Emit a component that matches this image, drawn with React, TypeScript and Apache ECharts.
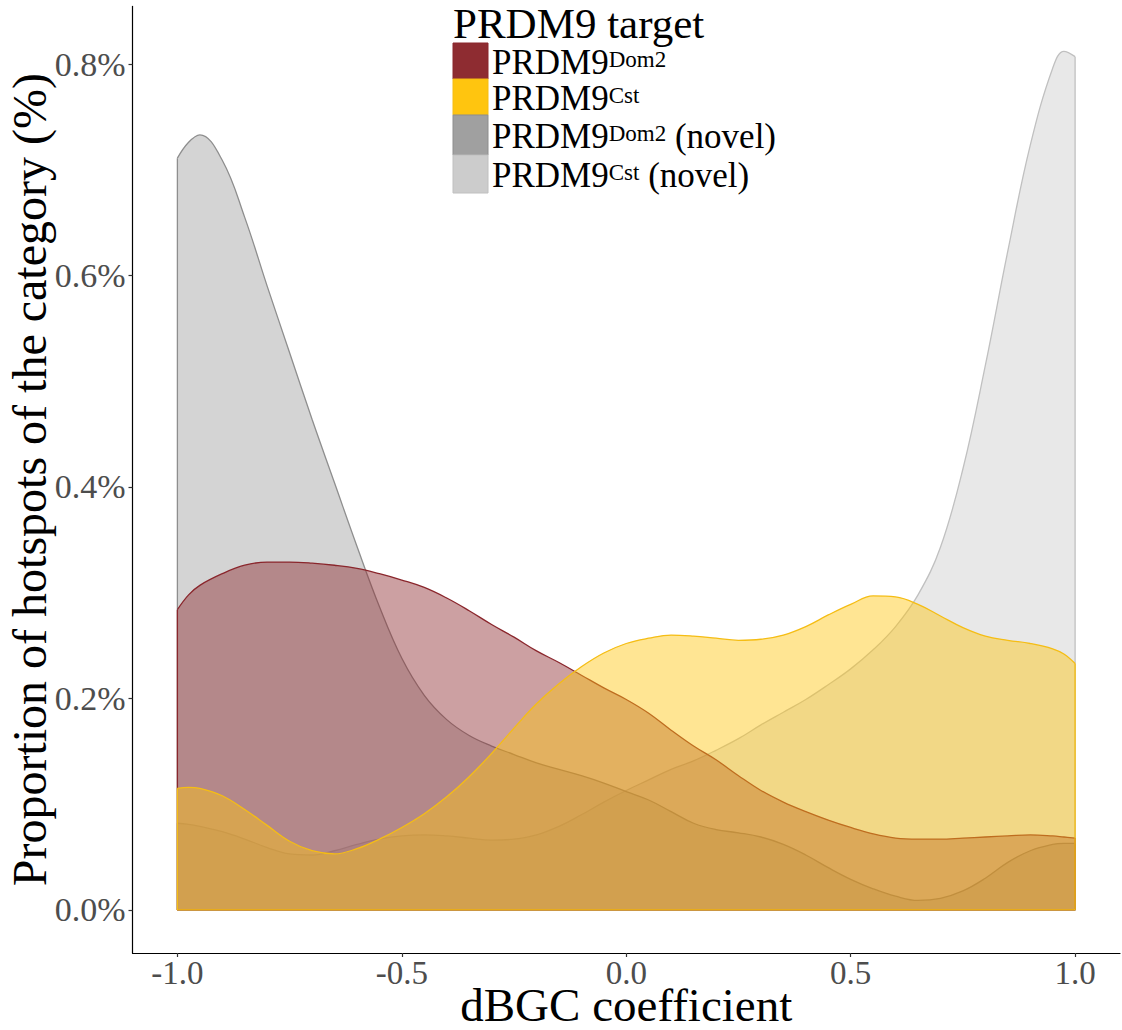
import { useEffect, useRef } from "react";
import * as echarts from "echarts";

// dBGC coefficient grid on which the densities were evaluated
const X_VALUES = [
  -1, -0.975, -0.95, -0.9, -0.85, -0.8, -0.75, -0.7, -0.65, -0.6, -0.55, -0.5,
  -0.45, -0.4, -0.35, -0.3, -0.25, -0.2, -0.15, -0.1, -0.05, 0, 0.05, 0.1,
  0.15, 0.2, 0.25, 0.3, 0.35, 0.4, 0.45, 0.5, 0.55, 0.6, 0.65, 0.7, 0.75,
  0.8, 0.85, 0.9, 0.95, 0.975, 1,
];

// Density (% of hotspots of the category) per PRDM9 target
const DOM2 = [
  0.284, 0.298, 0.307, 0.318, 0.326, 0.329, 0.329, 0.328, 0.326, 0.323, 0.318,
  0.312, 0.305, 0.295, 0.283, 0.27, 0.258, 0.245, 0.234, 0.222, 0.21, 0.199,
  0.186, 0.17, 0.155, 0.142, 0.127, 0.113, 0.102, 0.093, 0.085, 0.078, 0.072,
  0.068, 0.067, 0.067, 0.068, 0.069, 0.07, 0.071, 0.07, 0.069, 0.068,
];
const CST = [
  0.115, 0.116, 0.115, 0.108, 0.095, 0.08, 0.065, 0.056, 0.053, 0.058, 0.067,
  0.078, 0.091, 0.107, 0.126, 0.148, 0.172, 0.195, 0.214, 0.23, 0.243, 0.252,
  0.257, 0.26, 0.259, 0.257, 0.255, 0.256, 0.26, 0.268, 0.279, 0.289, 0.297,
  0.296, 0.289, 0.278, 0.267, 0.259, 0.255, 0.252, 0.247, 0.242, 0.233,
];
const DOM2_NOVEL = [
  0.711, 0.726, 0.733, 0.709, 0.655, 0.59, 0.527, 0.464, 0.404, 0.344, 0.287,
  0.238, 0.203, 0.18, 0.165, 0.155, 0.147, 0.139, 0.133, 0.127, 0.12, 0.112,
  0.104, 0.093, 0.082, 0.076, 0.073, 0.069, 0.062, 0.052, 0.04, 0.029, 0.02,
  0.013, 0.009, 0.011, 0.018, 0.03, 0.045, 0.056, 0.062, 0.063, 0.063,
];
const CST_NOVEL = [
  0.082, 0.081, 0.079, 0.074, 0.067, 0.059, 0.053, 0.052, 0.056, 0.062, 0.067,
  0.07, 0.071, 0.07, 0.068, 0.066, 0.067, 0.071, 0.079, 0.09, 0.102, 0.113,
  0.123, 0.133, 0.141, 0.151, 0.162, 0.175, 0.187, 0.199, 0.213, 0.228, 0.246,
  0.268, 0.298, 0.343, 0.417, 0.515, 0.623, 0.723, 0.796, 0.812, 0.807,
];

const X_TICKS = [-1, -0.5, 0, 0.5, 1];
const Y_TICKS = [0, 0.2, 0.4, 0.6, 0.8];

const LEGEND_TITLE = "PRDM9 target";
const LEGEND_ITEMS = [
  { base: "PRDM9", sup: "Dom2", suffix: "" },
  { base: "PRDM9", sup: "Cst", suffix: "" },
  { base: "PRDM9", sup: "Dom2", suffix: " (novel)" },
  { base: "PRDM9", sup: "Cst", suffix: " (novel)" },
];

const FONT = '"Liberation Serif", "Times New Roman", serif';

const COLORS = {
  dom2: { fill: "#8e2c31", line: "#8a262c" },
  cst: { fill: "#ffc50f", line: "#f5bd14" },
  dom2Novel: { fill: "#a0a0a0", line: "#8e8e8e" },
  cstNovel: { fill: "#cccccc", line: "#c0c0c0" },
};

// drawing order: novel densities underneath, yellow on top
const LAYERS = [
  { name: "cstNovel", values: CST_NOVEL, ...COLORS.cstNovel },
  { name: "dom2Novel", values: DOM2_NOVEL, ...COLORS.dom2Novel },
  { name: "dom2", values: DOM2, ...COLORS.dom2 },
  { name: "cst", values: CST, ...COLORS.cst },
];

const LEGEND_COLORS = [COLORS.dom2, COLORS.cst, COLORS.dom2Novel, COLORS.cstNovel];

function buildOption() {
  const last = X_VALUES.length - 1;
  const series: any[] = [];
  LAYERS.forEach((l, k) => {
    // each density gets its own z so its outline sits under later fills
    const z = 2 + k;
    series.push({
      name: l.name,
      type: "line",
      z,
      data: X_VALUES.map((x, i) => [x, l.values[i]]),
      smooth: 0.4,
      symbol: "none",
      silent: true,
      lineStyle: { color: l.line, width: 1.3 },
      areaStyle: { color: l.fill, opacity: 0.45, origin: "auto" },
    });
    // closing edges of the density polygon (sides and baseline)
    series.push({
      name: l.name + "-edge",
      type: "line",
      z,
      data: [
        [X_VALUES[0], l.values[0]],
        [X_VALUES[0], 0],
        [X_VALUES[last], 0],
        [X_VALUES[last], l.values[last]],
      ],
      symbol: "none",
      silent: true,
      lineStyle: { color: l.line, width: 1.3 },
    });
  });

  // legend drawn as key boxes with superscripted labels
  const swatchX = 453;
  const swatchW = 35;
  const rows = [
    { top: 43, h: 36 },
    { top: 79, h: 36 },
    { top: 115, h: 40 },
    { top: 155, h: 38 },
  ];
  const graphic: any[] = [
    {
      type: "text",
      x: swatchX,
      y: 1,
      z: 20,
      style: {
        text: LEGEND_TITLE,
        fontFamily: FONT,
        fontSize: 43,
        lineHeight: 44,
        fill: "#000",
        verticalAlign: "top",
      },
    },
  ];
  LEGEND_ITEMS.forEach((item, i) => {
    const r = rows[i];
    graphic.push({
      type: "rect",
      z: 20,
      shape: { x: swatchX, y: r.top, width: swatchW, height: r.h },
      style: { fill: LEGEND_COLORS[i].fill, stroke: LEGEND_COLORS[i].line, lineWidth: 1 },
    });
    graphic.push({
      type: "text",
      z: 20,
      x: 492,
      y: r.top + r.h / 2 + 3,
      style: {
        text: `{m|${item.base}}{s|${item.sup}}` + (item.suffix ? `{m|${item.suffix}}` : ""),
        verticalAlign: "middle",
        rich: {
          m: { fontFamily: FONT, fontSize: 35, fill: "#000", lineHeight: 32, verticalAlign: "bottom" },
          s: { fontFamily: FONT, fontSize: 23, fill: "#000", lineHeight: 32, verticalAlign: "top", padding: [0, 0, 7, 0] },
        },
      },
    });
  });

  return {
    animation: false,
    backgroundColor: "#ffffff",
    grid: { left: 132.5, right: 2, top: 6.4, bottom: 77, outerBoundsMode: "none", containLabel: false },
    xAxis: {
      type: "value",
      min: -1.1,
      max: 1.1,
      name: "dBGC coefficient",
      nameLocation: "middle",
      nameGap: 36,
      nameMoveOverlap: false,
      nameTextStyle: { fontFamily: FONT, fontSize: 47, lineHeight: 32, color: "#000" },
      axisLine: { onZero: false, lineStyle: { color: "#000", width: 1.2 } },
      axisTick: { customValues: X_TICKS, length: 4, lineStyle: { color: "#333", width: 1.2 } },
      axisLabel: {
        customValues: X_TICKS,
        formatter: (v: number) => v.toFixed(1),
        fontFamily: FONT,
        fontSize: 33,
        lineHeight: 26,
        color: "#4d4d4d",
        margin: 7,
      },
      splitLine: { show: false },
    },
    yAxis: {
      type: "value",
      min: -0.0407,
      max: 0.8545,
      name: "Proportion of hotspots of the category (%)",
      nameLocation: "middle",
      nameGap: 79,
      nameMoveOverlap: false,
      nameTextStyle: { fontFamily: FONT, fontSize: 48, color: "#000" },
      axisLine: { onZero: false, lineStyle: { color: "#000", width: 1.2 } },
      axisTick: { customValues: Y_TICKS, length: 4, lineStyle: { color: "#333", width: 1.2 } },
      axisLabel: {
        customValues: Y_TICKS,
        formatter: (v: number) => v.toFixed(1) + "%",
        fontFamily: FONT,
        fontSize: 34,
        color: "#4d4d4d",
        margin: 7,
      },
      splitLine: { show: false },
    },
    series,
    graphic,
  };
}

export default function App() {
  const ref = useRef<HTMLDivElement>(null);
  useEffect(() => {
    if (!ref.current) return;
    const chart = echarts.init(ref.current, null, { renderer: "svg" });
    chart.setOption(buildOption() as any);
    return () => chart.dispose();
  }, []);
  return (
    <div
      ref={ref}
      style={{ position: "fixed", left: 0, top: 0, width: 1122, height: 1030, background: "#fff" }}
    />
  );
}
